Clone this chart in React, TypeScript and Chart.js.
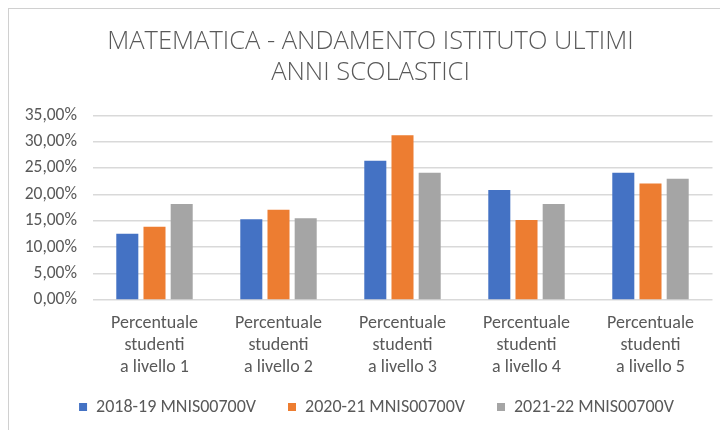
import React, { useEffect, useRef } from "react";
import { Chart, registerables } from "chart.js";

Chart.register(...registerables);

const titleLines = ["MATEMATICA - ANDAMENTO ISTITUTO ULTIMI", "ANNI SCOLASTICI"];
const categories = [
  ["Percentuale", "studenti", "a livello 1"],
  ["Percentuale", "studenti", "a livello 2"],
  ["Percentuale", "studenti", "a livello 3"],
  ["Percentuale", "studenti", "a livello 4"],
  ["Percentuale", "studenti", "a livello 5"],
];
const seriesNames = ["2018-19 MNIS00700V", "2020-21 MNIS00700V", "2021-22 MNIS00700V"];
const series2018 = [12.55, 15.3, 26.4, 20.85, 24.1];
const series2020 = [13.9, 17.1, 31.2, 15.15, 22.1];
const series2021 = [18.2, 15.5, 24.1, 18.2, 23.0];
const seriesColors = ["#4472C4", "#ED7D31", "#A5A5A5"];
const yMin = 0;
const yMax = 35;
const yStep = 5;

const FONT = "Calibri, Carlito, Lato, sans-serif";
const TITLE_FONT = "'Open Sans', sans-serif";
const TEXT = "#595959";

// moves the legend box a little so it can sit close under the 3-line axis labels
const legendShift = {
  id: "legendShift",
  afterLayout(chart: any) {
    const l = chart.legend;
    if (l) {
      l.top -= 13;
      l.bottom -= 13;
      l.left += 6;
      l.right += 6;
    }
  },
};

export default function App() {
  const ref = useRef<HTMLCanvasElement | null>(null);

  useEffect(() => {
    if (!ref.current) return;
    const values = [series2018, series2020, series2021];
    const chart = new Chart(ref.current, {
      type: "bar",
      data: {
        labels: categories,
        datasets: values.map((v, i) => ({
          label: seriesNames[i],
          data: v,
          backgroundColor: seriesColors[i],
          borderWidth: 0,
          categoryPercentage: 0.658,
          barPercentage: 0.81,
        })),
      },
      plugins: [legendShift],
      options: {
        responsive: false,
        animation: false,
        layout: { padding: { left: 12, right: 0, top: 0, bottom: 0 } },
        plugins: {
          tooltip: { enabled: false },
          title: {
            display: true,
            text: titleLines,
            color: TEXT,
            font: { family: TITLE_FONT, size: 25.5, weight: "300", lineHeight: 31 / 25.5 },
            padding: { top: 17.5, bottom: 26.8 },
          },
          legend: {
            display: true,
            position: "bottom",
            align: "center",
            labels: {
              boxWidth: 8,
              boxHeight: 8,
              padding: 32,
              color: TEXT,
              font: { family: FONT, size: 18 },
            },
          },
        },
        scales: {
          x: {
            grid: { display: false, drawTicks: false },
            border: { display: false },
            ticks: {
              color: TEXT,
              padding: 12.7,
              maxRotation: 0,
              autoSkip: false,
              font: { family: FONT, size: 18, lineHeight: 22 / 18 },
            },
            afterFit: (s: any) => {
              s.height = 79;
            },
          },
          y: {
            min: yMin,
            max: yMax,
            grid: { color: "#d9d9d9", lineWidth: 1.5, drawTicks: false },
            border: { display: false },
            ticks: {
              stepSize: yStep,
              color: TEXT,
              padding: 15.5,
              font: { family: FONT, size: 17.5 },
              callback: (v: any) => Number(v).toFixed(2).replace(".", ",") + "%",
            },
            afterFit: (s: any) => {
              s.width = 71.5;
            },
          },
          y2: {
            position: "right",
            display: true,
            min: 0,
            max: 1,
            grid: { display: false, drawTicks: false },
            border: { display: false },
            ticks: { display: false },
            afterFit: (s: any) => {
              s.width = 7.5;
            },
          },
        },
      },
    });
    return () => chart.destroy();
  }, []);

  return (
    <div
      style={{
        position: "absolute",
        left: 8,
        top: 8,
        width: 712,
        height: 422,
        boxSizing: "border-box",
        borderLeft: "1px solid #d0d0d0",
        borderTop: "1px solid #d0d0d0",
        overflow: "hidden",
        background: "#fff",
      }}
    >
      <canvas ref={ref} width={711} height={430} style={{ display: "block", width: 711, height: 430 }} />
    </div>
  );
}
